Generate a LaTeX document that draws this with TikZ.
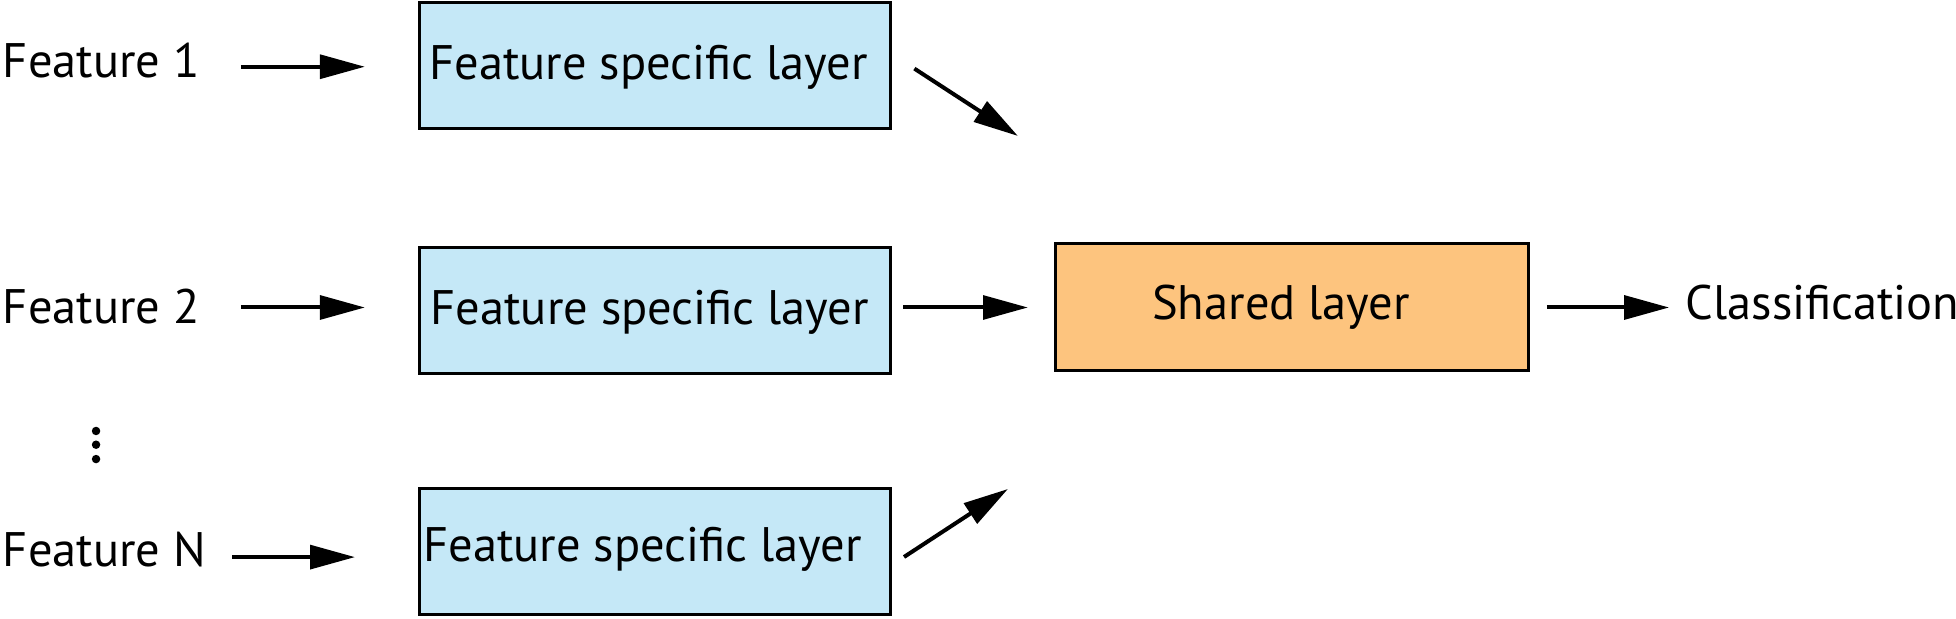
\documentclass[tikz,border=0pt]{standalone}
\usepackage{fontspec}
\setmainfont{PT Sans}
\usetikzlibrary{arrows.meta}
\definecolor{boxblue}{RGB}{197,232,247}
\definecolor{boxorange}{RGB}{253,196,126}
\begin{document}
\begin{tikzpicture}[x=0.5bp,y=-0.5bp,
  every node/.style={font=\fontsize{19.5}{23}\selectfont, inner sep=0pt},
  layerbox/.style={draw=black, line width=1.2bp, fill=boxblue, minimum width=189bp, minimum height=50.5bp},
  sharedbox/.style={draw=black, line width=1.2bp, fill=boxorange, minimum width=189.5bp, minimum height=51bp},
  arr/.style={line width=1.6bp, -{Triangle[length=18bp,width=9.5bp]}}]
\useasboundingbox (0,0) rectangle (1568,496);
% features
\node[anchor=base west] (f1) at (2,62.5) {Feature 1};
\node[anchor=base west] (f2) at (2,259) {Feature 2};
\node[anchor=base west] (fn) at (2,454.5) {Feature N};
\coordinate (dots) at (77,356);
\fill (77,345.5) circle (1.7bp);
\fill (77,356.5) circle (1.7bp);
\fill (77,368) circle (1.7bp);
% boxes
\node[layerbox] (b1) at (525,52.5) {};
\node[layerbox] (b2) at (525,249) {};
\node[layerbox] (b3) at (525,442.5) {};
\node[anchor=base] (t1) at (520,64) {Feature specific layer};
\node[anchor=base] (t2) at (521,260) {Feature specific layer};
\node[anchor=base] (t3) at (515,450) {Feature specific layer};
\node[sharedbox] (s) at (1035.5,246) {};
\node[anchor=base] (ts) at (1027,256) {Shared layer};
\node[anchor=base west] (cls) at (1351,256) {Classification};
% arrow coordinates
\coordinate (a1s) at (193,53.5); \coordinate (a1e) at (292.5,53.5);
\coordinate (a2s) at (193,246.5); \coordinate (a2e) at (292.5,246.5);
\coordinate (a3s) at (186,446.6); \coordinate (a3e) at (284.6,446.6);
\coordinate (d1s) at (733,55); \coordinate (d1e) at (816,109);
\coordinate (m2s) at (724,246.5); \coordinate (m2e) at (824,246.5);
\coordinate (d3s) at (724.7,446.5); \coordinate (d3e) at (808,392);
\coordinate (os) at (1240,246.5); \coordinate (oe) at (1338,246.5);
\draw[arr] (a1s) -- (a1e);
\draw[arr] (a2s) -- (a2e);
\draw[arr] (a3s) -- (a3e);
\draw[arr] (d1s) -- (d1e);
\draw[arr] (m2s) -- (m2e);
\draw[arr] (d3s) -- (d3e);
\draw[arr] (os) -- (oe);
\end{tikzpicture}
\end{document}
